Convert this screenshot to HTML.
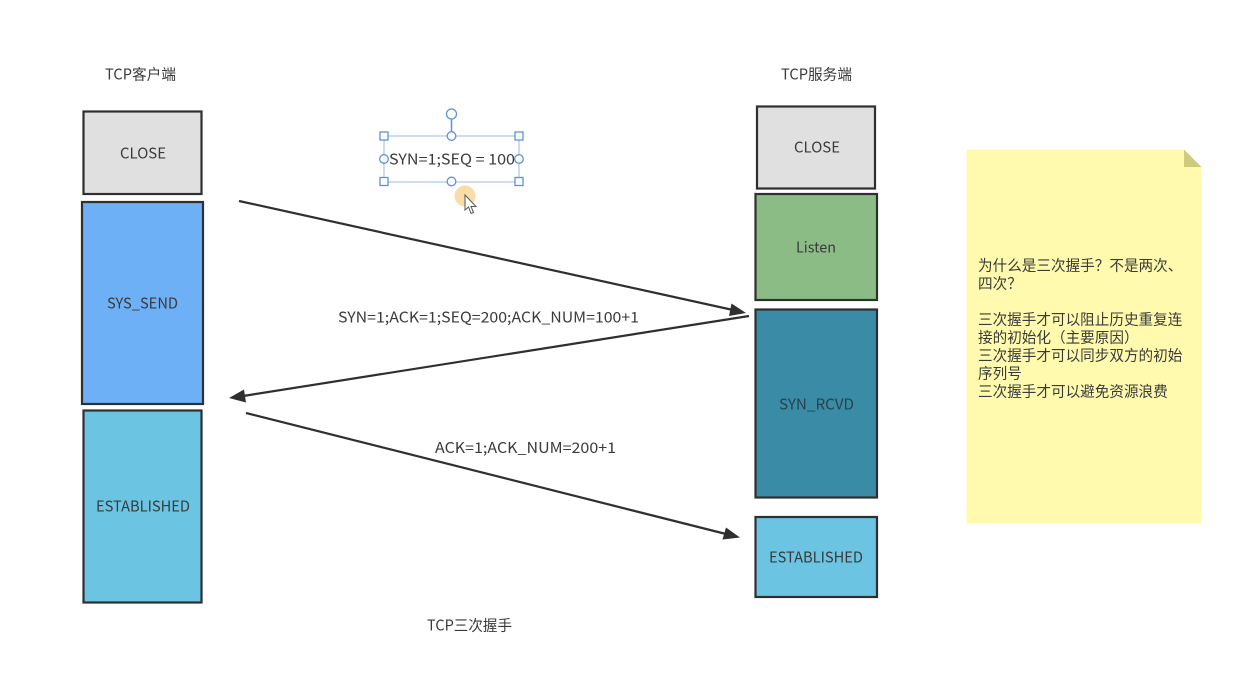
<!DOCTYPE html>
<html><head><meta charset="utf-8"><style>
html,body{margin:0;padding:0;background:#fff}
svg{display:block}
text{font-family:"Noto Sans CJK SC","Liberation Sans",sans-serif;font-size:14.6px;fill:#3a3a3a}
.m{text-anchor:middle}
.b{stroke:#2f2f2f;stroke-width:2.2}
.l{stroke:#2f2f2f;stroke-width:2.2;fill:none}
.h{fill:#fff;stroke:#5b93d8;stroke-width:1.3}
</style></head><body>
<svg width="1238" height="685" viewBox="0 0 1238 685" xmlns="http://www.w3.org/2000/svg">
<rect width="1238" height="685" fill="#fff"/>
<text x="105" y="79.500" textLength="71" lengthAdjust="spacingAndGlyphs">TCP客户端</text>
<text x="781" y="79.500" textLength="71" lengthAdjust="spacingAndGlyphs">TCP服务端</text>
<text x="427" y="630.500" textLength="85" lengthAdjust="spacingAndGlyphs">TCP三次握手</text>

<rect class="b" x="83.500" y="111.500" width="118" height="82.500" fill="#e0e0e0"/>
<text x="120" y="158.700" textLength="46" lengthAdjust="spacingAndGlyphs">CLOSE</text>
<rect class="b" x="82" y="202" width="121" height="202" fill="#6db0f5"/>
<text x="107" y="308.700" textLength="71" lengthAdjust="spacingAndGlyphs">SYS_SEND</text>
<rect class="b" x="83.500" y="410.500" width="118" height="192" fill="#6ac4e2"/>
<text x="96" y="511.700" textLength="94" lengthAdjust="spacingAndGlyphs">ESTABLISHED</text>

<rect class="b" x="757" y="106.500" width="118" height="82" fill="#e0e0e0"/>
<text x="794" y="152.700" textLength="46" lengthAdjust="spacingAndGlyphs">CLOSE</text>
<rect class="b" x="755.500" y="194" width="121.500" height="106" fill="#8cbc86"/>
<text x="796" y="252.700" textLength="40" lengthAdjust="spacingAndGlyphs">Listen</text>
<rect class="b" x="755.500" y="309.500" width="121.500" height="188" fill="#3a8ba6"/>
<text x="779" y="409.700" textLength="75" lengthAdjust="spacingAndGlyphs" style="fill:#27424d">SYN_RCVD</text>
<rect class="b" x="755.500" y="517" width="121.500" height="80" fill="#6ac4e2"/>
<text x="769" y="562.700" textLength="94" lengthAdjust="spacingAndGlyphs">ESTABLISHED</text>

<line class="l" x1="239" y1="201" x2="733" y2="310"/>
<polygon points="746,313 731.500,303.500 729,316" fill="#2f2f2f"/>
<line class="l" x1="749" y1="316" x2="243" y2="396"/>
<polygon points="229,398 244,389.500 246,402.500" fill="#2f2f2f"/>
<line class="l" x1="246" y1="413" x2="726" y2="534"/>
<polygon points="740,537.500 726,527.500 722.500,539.500" fill="#2f2f2f"/>

<text x="338" y="322.500" textLength="301" lengthAdjust="spacingAndGlyphs">SYN=1;ACK=1;SEQ=200;ACK_NUM=100+1</text>
<text x="435" y="453" textLength="181" lengthAdjust="spacingAndGlyphs">ACK=1;ACK_NUM=200+1</text>

<rect x="384" y="136" width="135" height="46" fill="none" stroke="#a8c6ec" stroke-width="1.2"/>
<line x1="451.500" y1="119" x2="451.500" y2="136" stroke="#5b93d8" stroke-width="1.5"/>
<text x="389" y="164.500" textLength="126" lengthAdjust="spacingAndGlyphs">SYN=1;SEQ = 100</text>
<circle class="h" cx="451.500" cy="114" r="5" stroke-width="2"/>
<rect class="h" x="380" y="132" width="8" height="8"/>
<rect class="h" x="515" y="132" width="8" height="8"/>
<rect class="h" x="380" y="177.500" width="8" height="8"/>
<rect class="h" x="515" y="177.500" width="8" height="8"/>
<circle class="h" cx="451.500" cy="136" r="4.300"/>
<circle class="h" cx="451.500" cy="181.500" r="4.300"/>
<circle class="h" cx="384" cy="159" r="4.300"/>
<circle class="h" cx="519" cy="159" r="4.300"/>
<circle cx="465" cy="196" r="10.500" fill="#f9dca6"/>
<polygon points="465,195 465,210 468.500,207 471,213.500 473.500,212.500 471,206.500 476,206.500" fill="#fff" stroke="#555" stroke-width="1"/>

<polygon points="966.500,149.500 1184,149.500 1201.500,167 1201.500,523.500 966.500,523.500" fill="#fffaae"/>
<polygon points="1184,149.500 1201.500,167 1184,167" fill="#cfca7d"/>
<text x="978" y="270.500">为什么是三次握手？不是两次、</text>
<text x="978" y="288.500">四次？</text>
<text x="978" y="324.500">三次握手才可以阻止历史重复连</text>
<text x="978" y="342.500">接的初始化（主要原因）</text>
<text x="978" y="360.500">三次握手才可以同步双方的初始</text>
<text x="978" y="378.500">序列号</text>
<text x="978" y="396.500">三次握手才可以避免资源浪费</text>
</svg>
</body></html>
